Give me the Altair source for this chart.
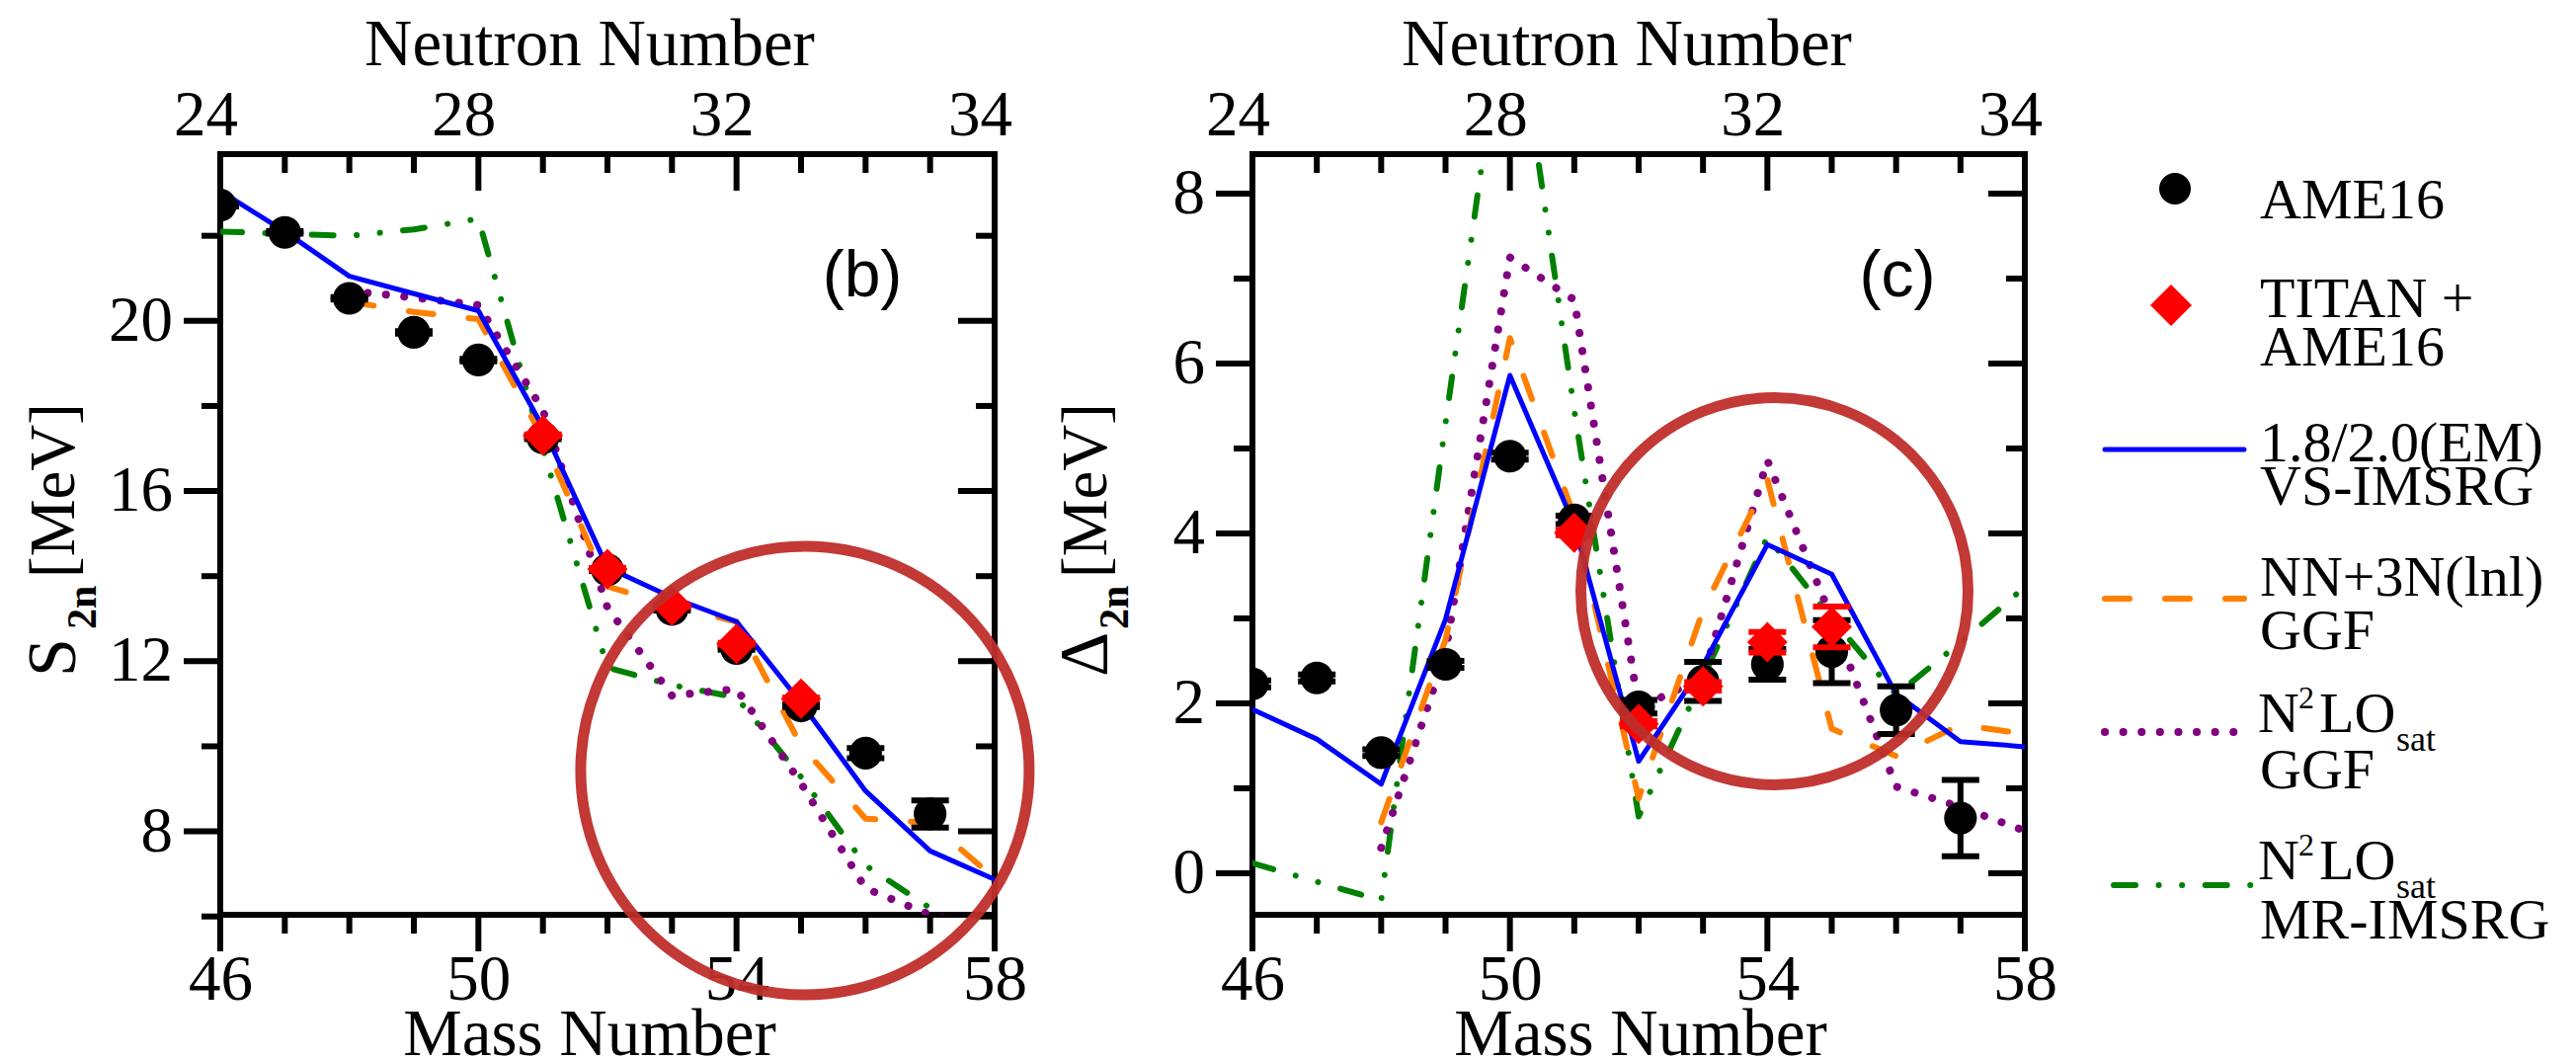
import altair as alt
import pandas as pd

SERIF = "Liberation Serif"
SANS = "Liberation Sans"

# ---------------- data ----------------
mass_all = [46, 47, 48, 49, 50, 51, 52, 53, 54, 55, 56, 57, 58]
mass_ame = [46, 47, 48, 49, 50, 51, 52, 53, 54, 55, 56, 57]
mass_titan = [51, 52, 53, 54, 55]
mass_ggf = [48, 49, 50, 51, 52, 53, 54, 55, 56, 57, 58]

# panel (b): S2n [MeV]
s2n_ame = [22.72, 22.08, 20.53, 19.73, 19.08, 17.25, 14.15, 13.22, 12.30, 10.95, 9.84, 8.41]
s2n_ame_err = [0.03, 0.03, 0.03, 0.03, 0.03, 0.03, 0.03, 0.03, 0.03, 0.03, 0.12, 0.32]
s2n_titan = [17.31, 14.17, 13.30, 12.41, 11.12]
s2n_titan_err = [0.02, 0.02, 0.02, 0.02, 0.02]
s2n_vs = [23.05, 22.10, 21.05, 20.64, 20.24, 17.50, 14.20, 13.50, 12.93, 11.02, 8.95, 7.54, 6.87]
s2n_lnl = [20.45, 20.21, 20.04, 17.24, 13.76, 13.30, 12.93, 10.02, 8.30, 8.20, 6.90]
s2n_n2lo_ggf = [20.70, 20.55, 20.37, 17.90, 13.26, 11.19, 11.35, 9.13, 6.66, 6.04, 5.64]
s2n_n2lo_mr = [22.10, 22.05, 22.00, 22.15, 22.40, 17.00, 11.85, 11.44, 11.15, 9.28, 7.20, 6.20, 5.10]

# panel (c): Delta2n [MeV]
d2n_ame = [2.23, 2.30, 1.42, 2.46, 4.91, 4.16, 1.96, 2.26, 2.46, 2.61, 1.92, 0.65]
d2n_ame_err = [0.04, 0.04, 0.04, 0.04, 0.04, 0.05, 0.08, 0.23, 0.18, 0.37, 0.28, 0.45]
d2n_titan = [4.01, 1.76, 2.20, 2.72, 2.90]
d2n_titan_err = [0.03, 0.03, 0.05, 0.12, 0.24]
d2n_vs = [1.93, 1.58, 1.05, 2.99, 5.86, 4.10, 1.32, 2.45, 3.87, 3.52, 2.11, 1.55, 1.49]
d2n_lnl = [0.60, 2.75, 6.30, 4.20, 0.88, 3.10, 4.63, 1.70, 1.38, 1.75, 1.64]
d2n_n2lo_ggf = [0.30, 2.60, 7.25, 6.75, 1.95, 2.30, 4.86, 3.00, 1.02, 0.78, 0.50]
d2n_n2lo_mr = [0.12, -0.10, -0.32, 5.30, 10.70, 5.45, 0.67, 2.30, 3.96, 3.00, 2.10, 2.72, 3.37]

# highlighted regions (centre in data units)
circle_b = {"m": [55.06], "v": [9.43]}
circle_c = {"m": [54.11], "v": [3.32]}

# axes
mass_label_values = [46, 50, 54, 58]
neutron_labels = ["24", "28", "32", "34"]
x_minor = [47, 48, 49, 51, 52, 53, 55, 56, 57]
s2n_major = [8, 12, 16, 20]
s2n_minor = [6, 10, 14, 18, 22]
d2n_major = [0, 2, 4, 6, 8]
d2n_minor = [1, 3, 5, 7]

legend_ame = "AME16"
legend_titan = ["TITAN +", "AME16"]
legend_vs = ["1.8/2.0(EM)", "VS-IMSRG"]
legend_lnl = ["NN+3N(lnl)", "GGF"]
legend_n2lo = ["N", "2", "LO", "sat"]
legend_n2lo_second = ["GGF", "MR-IMSRG"]

# ---------------- styles ----------------
BLUE, ORANGE, PURPLE, GREEN = "#0000FF", "#FF8000", "#800080", "#008000"
BRICK = "#BF2F2B"
W_L, W_R, H = 784, 782, 770
SPACING = 261

STYLES = {
    "vs": dict(color=BLUE, strokeWidth=5),
    "lnl": dict(color=ORANGE, strokeWidth=6, strokeDash=[25, 36]),
    "ggf": dict(color=PURPLE, strokeWidth=8, strokeDash=[0.1, 18.5]),
    "mr": dict(color=GREEN, strokeWidth=6, strokeDash=[22, 23.5, 0.1, 23.5, 0.1, 23.5]),
}


def line_layer(masses, values, style, xs, ys):
    df = pd.DataFrame({"m": masses, "v": values})
    return alt.Chart(df).mark_line(strokeCap="round", strokeJoin="round", clip=True, **style).encode(
        x=alt.X("m:Q", scale=xs, axis=None), y=alt.Y("v:Q", scale=ys, axis=None)
    )


def err_layers(masses, vals, errs, color, xs, ys):
    lo = [v - e for v, e in zip(vals, errs)]
    hi = [v + e for v, e in zip(vals, errs)]
    df = pd.DataFrame({"m": masses, "lo": lo, "hi": hi})
    rule = alt.Chart(df).mark_rule(color=color, strokeWidth=6, clip=True).encode(
        x=alt.X("m:Q", scale=xs, axis=None), y=alt.Y("lo:Q", scale=ys, axis=None), y2="hi:Q"
    )
    cdf = pd.DataFrame({"m": list(masses) * 2, "c": lo + hi})
    caps = alt.Chart(cdf).mark_tick(orient="horizontal", size=38, thickness=6, color=color, opacity=1,
                                    clip=True).encode(
        x=alt.X("m:Q", scale=xs, axis=None), y=alt.Y("c:Q", scale=ys, axis=None)
    )
    return [rule, caps]


def point_layer(masses, vals, shape, size, color, xs, ys):
    df = pd.DataFrame({"m": masses, "v": vals})
    return alt.Chart(df).mark_point(shape=shape, size=size, filled=True, color=color, opacity=1,
                                    strokeWidth=0, clip=True).encode(
        x=alt.X("m:Q", scale=xs, axis=None), y=alt.Y("v:Q", scale=ys, axis=None)
    )


def ring_layer(c, radius, xs, ys):
    df = pd.DataFrame(c)
    return alt.Chart(df).mark_point(shape="circle", filled=False, size=(2 * radius) ** 2, color=BRICK,
                                    strokeWidth=11, opacity=0.95).encode(
        x=alt.X("m:Q", scale=xs, axis=None), y=alt.Y("v:Q", scale=ys, axis=None)
    )


def text_layer(s, x, y, size, font=SERIF, angle=0, align="left", weight="normal"):
    kw = dict(font=font, fontSize=size, align=align, baseline="alphabetic", color="black", fontWeight=weight)
    if angle:
        kw["angle"] = angle
    return alt.Chart(pd.DataFrame({"t": [s]})).mark_text(**kw).encode(
        text="t:N", x=alt.value(x), y=alt.value(y)
    )


def ylabel_layer(vals, ys):
    df = pd.DataFrame({"v": vals, "lab": [str(v) for v in vals]})
    return alt.Chart(df).mark_text(font=SERIF, fontSize=65, align="right", baseline="middle",
                                   color="black").encode(
        y=alt.Y("v:Q", scale=ys, axis=None), x=alt.value(-48), text="lab:N"
    )


def tick_layer(vals, side, length, W, scale, axis=None):
    df = pd.DataFrame({"t": vals})
    if side in ("bottom", "top"):
        enc = dict(x=alt.X("t:Q", scale=scale, axis=axis))
        if side == "bottom":
            enc.update(y=alt.value(H), y2=alt.value(H + length))
        else:
            enc.update(y=alt.value(0), y2=alt.value(length))
    else:
        enc = dict(y=alt.Y("t:Q", scale=scale, axis=axis))
        if side == "left":
            enc.update(x=alt.value(-length), x2=alt.value(0))
        else:
            enc.update(x=alt.value(W - length), x2=alt.value(W))
    return alt.Chart(df).mark_rule(color="black", strokeWidth=6).encode(**enc)


label_expr = " : ".join(
    f"datum.value == {m} ? '{n}'" for m, n in zip(mass_label_values[:-1], neutron_labels[:-1])
) + f" : '{neutron_labels[-1]}'"

AX_COMMON = dict(ticks=False, tickSize=0, domain=False, grid=False, title=None,
                 labelFlush=False, labelOverlap=False)
bottom_axis = alt.Axis(orient="bottom", values=mass_label_values, format="d", labelPadding=85,
                       labelBaseline="alphabetic", **AX_COMMON)
top_axis = alt.Axis(orient="top", values=mass_label_values, labelExpr=label_expr, labelPadding=20,
                    labelBaseline="alphabetic", labelOffset=-15, **AX_COMMON)


def panel(W, ydom, ymajor, yminor, series, ame, ame_err, titan, titan_err, ring, ring_r,
          ysym, tag, tag_x, top_title_x, bottom_title_x, extra=None):
    xs = alt.Scale(domain=[46, 58], nice=False, zero=False)
    ys = alt.Scale(domain=ydom, nice=False, zero=False)
    layers = []
    for masses, vals, key in series:
        layers.append(line_layer(masses, vals, STYLES[key], xs, ys))
    layers += err_layers(mass_ame, ame, ame_err, "black", xs, ys)
    layers.append(point_layer(mass_ame, ame, "circle", 1100, "black", xs, ys))
    layers += err_layers(mass_titan, titan, titan_err, "#FF0000", xs, ys)
    layers.append(point_layer(mass_titan, titan, "diamond", 1680, "#FF0000", xs, ys))
    # ticks (drawn by hand so that top/right ticks point inward)
    layers.append(tick_layer(mass_label_values, "bottom", 37, W, xs, bottom_axis))
    layers.append(tick_layer(x_minor, "bottom", 19, W, xs))
    layers.append(tick_layer(mass_label_values, "top", 37, W, xs, top_axis))
    layers.append(tick_layer(x_minor, "top", 19, W, xs))
    layers.append(tick_layer(ymajor, "left", 37, W, ys))
    layers.append(tick_layer(yminor, "left", 19, W, ys))
    layers.append(tick_layer(ymajor, "right", 37, W, ys))
    layers.append(tick_layer(yminor, "right", 19, W, ys))
    layers.append(ylabel_layer(ymajor, ys))
    layers.append(ring_layer(ring, ring_r, xs, ys))
    # titles
    layers.append(text_layer("Neutron Number", top_title_x, -90, 67, align="center"))
    layers.append(text_layer("Mass Number", bottom_title_x, 912, 67, align="center"))
    layers.append(text_layer(ysym, -147, 529, 70, angle=270))
    layers.append(text_layer("2n", -126, 481, 42, angle=270, weight="bold"))
    layers.append(text_layer("[MeV]", -148, 429, 65, angle=270))
    layers.append(text_layer(tag, tag_x, 144, 66, font=SANS, align="center"))
    if extra:
        layers += extra
    return alt.layer(*layers).properties(width=W, height=H).resolve_axis(x="independent")


# anchor for the top-left corner of the page
anchor = alt.Chart(pd.DataFrame({"a": [0]})).mark_rect(color="white").encode(
    x=alt.value(-212), x2=alt.value(-211), y=alt.value(-145), y2=alt.value(-144)
)


def legend_rule(x1, x2, y, key):
    st = dict(STYLES[key])
    return alt.Chart(pd.DataFrame({"a": [0]})).mark_rule(strokeCap="round", **st).encode(
        x=alt.value(x1), x2=alt.value(x2), y=alt.value(y)
    )


def legend_symbol(x, y, shape, size, color):
    return alt.Chart(pd.DataFrame({"a": [0]})).mark_point(shape=shape, size=size, filled=True, color=color,
                                                          opacity=1, strokeWidth=0).encode(
        x=alt.value(x), y=alt.value(y)
    )


TX = 1020
legend = [
    legend_symbol(934, 35, "circle", 1024, "black"),
    text_layer(legend_ame, TX, 65, 58),
    legend_symbol(930, 153, "diamond", 1764, "#FF0000"),
    text_layer(legend_titan[0], TX, 165, 58),
    text_layer(legend_titan[1], TX, 214, 58),
    legend_rule(863, 1004, 299, "vs"),
    text_layer(legend_vs[0], TX, 311, 58),
    text_layer(legend_vs[1], TX, 355, 58),
    legend_rule(863, 1004, 450, "lnl"),
    text_layer(legend_lnl[0], TX, 447, 58),
    text_layer(legend_lnl[1], TX, 501, 58),
    legend_rule(863, 1007, 585, "ggf"),
    text_layer(legend_n2lo[0], TX - 2, 585, 58),
    text_layer(legend_n2lo[1], TX + 39, 561, 32),
    text_layer(legend_n2lo[2], TX + 60, 585, 58),
    text_layer(legend_n2lo[3], TX + 138, 604, 36),
    text_layer(legend_n2lo_second[0], TX, 642, 58),
    legend_rule(872, 1013, 740, "mr"),
    text_layer(legend_n2lo[0], TX - 2, 734, 58),
    text_layer(legend_n2lo[1], TX + 39, 710, 32),
    text_layer(legend_n2lo[2], TX + 60, 734, 58),
    text_layer(legend_n2lo[3], TX + 138, 753, 36),
    text_layer(legend_n2lo_second[1], TX, 794, 58),
]

left = panel(
    W_L, [6.04, 23.92], s2n_major, s2n_minor,
    [(mass_all, s2n_n2lo_mr, "mr"), (mass_ggf, s2n_n2lo_ggf, "ggf"), (mass_ggf, s2n_lnl, "lnl"),
     (mass_all, s2n_vs, "vs")],
    s2n_ame, s2n_ame_err, s2n_titan, s2n_titan_err, circle_b, 227,
    "S", "(b)", 650, 374, 374, extra=[anchor],
)
right = panel(
    W_R, [-0.488, 8.465], d2n_major, d2n_minor,
    [(mass_all, d2n_n2lo_mr, "mr"), (mass_ggf, d2n_n2lo_ggf, "ggf"), (mass_ggf, d2n_lnl, "lnl"),
     (mass_all, d2n_vs, "vs")],
    d2n_ame, d2n_ame_err, d2n_titan, d2n_titan_err, circle_c, 196,
    "Δ", "(c)", 653, 379, 393, extra=legend,
)

chart = (
    alt.hconcat(left, right, spacing=SPACING, bounds="flush")
    .properties(padding=0)
    .configure_view(stroke="black", strokeWidth=6)
    .configure_axis(labelFont=SERIF, labelFontSize=65, labelColor="black")
)

chart.save("out.html", embed_options={"renderer": "svg", "actions": False})
